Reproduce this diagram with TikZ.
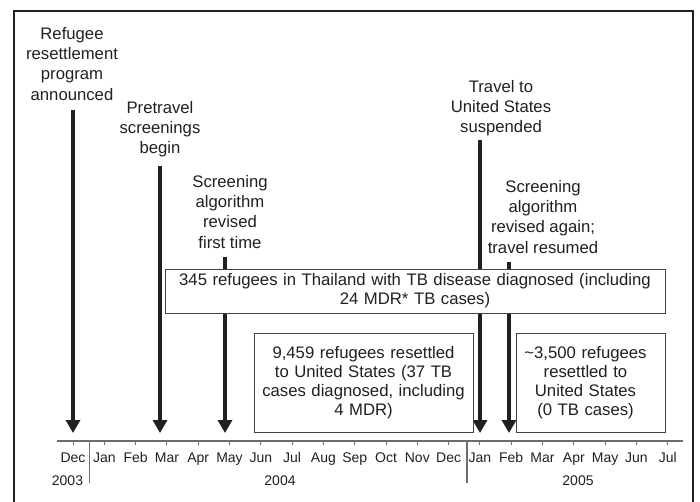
\documentclass[tikz,border=0pt]{standalone}
\usepackage{fontspec}
\setmainfont{Liberation Sans}
\usetikzlibrary{arrows.meta}

\definecolor{ink}{HTML}{231F20}
\definecolor{rulegray}{HTML}{6D6E71}

\tikzset{
  evlabel/.style={align=center, inner sep=0pt, anchor=north, text=ink,
    font=\fontsize{16.7}{20.3}\selectfont},
  evarrow/.style={draw=ink, line width=4.3pt, -{Triangle[width=14pt,length=13pt]}},
  countbox/.style={draw=ink!85, line width=0.9pt, fill=white, align=center, text=ink,
    inner sep=0pt, font=\fontsize{16.7}{19.2}\selectfont},
  monthlabel/.style={anchor=base, inner sep=0pt, text=ink, font=\fontsize{14}{16}\selectfont},
}

\begin{document}
\begin{tikzpicture}[x=1pt,y=-1pt]
  \useasboundingbox (0,0) rectangle (700,502);

  % frame, open at the bottom
  \draw[ink, line width=2.5pt] (14,502) -- (14,11) -- (693,11) -- (693,502);

  % time axis
  \draw[rulegray, line width=1.4pt] (57,441) -- (683,441);
  \foreach \m [count=\i from 0] in {Dec,Jan,Feb,Mar,Apr,May,Jun,Jul,Aug,Sep,Oct,Nov,Dec,Jan,Feb,Mar,Apr,May,Jun,Jul} {
    \coordinate (t\i) at (73+31.3*\i,441);
    \draw[rulegray, line width=1pt] (t\i) -- ++(0,4);
    \node[monthlabel] (m\i) at (73+31.3*\i,462) {\m};
  }
  \draw[rulegray, line width=1.2pt] (89.5,441) -- (89.5,483);
  \draw[rulegray, line width=1.2pt] (467,441) -- (467,483);
  \node[monthlabel] (y2003) at (67.5,485) {2003};
  \node[monthlabel] (y2004) at (280,485) {2004};
  \node[monthlabel] (y2005) at (578,485) {2005};

  % events
  \coordinate (tip1) at (73,433);
  \coordinate (tip2) at (160,433);
  \coordinate (tip3) at (225,433);
  \coordinate (tip4) at (480,433);
  \coordinate (tip5) at (509,433);

  \node[evlabel] (announce) at (72,27) {Refugee\\resettlement\\program\\announced};
  \node[evlabel] (pretravel) at (160,101) {Pretravel\\screenings\\begin};
  \node[evlabel] (revise1) at (230,175) {Screening\\algorithm\\revised\\first time};
  \node[evlabel] (suspend) at (501,80) {Travel to\\United States\\suspended};
  \node[evlabel] (revise2) at (543,180) {Screening\\algorithm\\revised again;\\travel resumed};

  \draw[evarrow, shorten <=9pt] (announce.south -| tip1) -- (tip1);
  \draw[evarrow, shorten <=8pt] (pretravel.south -| tip2) -- (tip2);
  \draw[evarrow, shorten <=8pt] (revise1.south -| tip3) -- (tip3);
  \draw[evarrow, shorten <=3pt] (suspend.south -| tip4) -- (tip4);
  \draw[evarrow, shorten <=8pt] (revise2.south -| tip5) -- (tip5);

  % counts
  \node[countbox, minimum width=500pt, minimum height=44pt, text width=494pt] (thai) at (415,291)
    {345 refugees in Thailand with TB disease diagnosed (including\\24 MDR* TB cases)};
  \node[countbox, minimum width=219pt, minimum height=99pt, text width=212pt] (us2004) at (363.5,382.5)
    {9,459 refugees resettled\\to United States (37 TB\\cases diagnosed, including\\4 MDR)};
  \node[countbox, minimum width=149pt, minimum height=99pt, text width=140pt] (us2005) at (590.5,382.5)
    {\hspace*{-10pt}\parbox{140pt}{\centering \textasciitilde 3,500 refugees\\resettled to\\United States\\(0 TB cases)}};

\end{tikzpicture}
\end{document}
